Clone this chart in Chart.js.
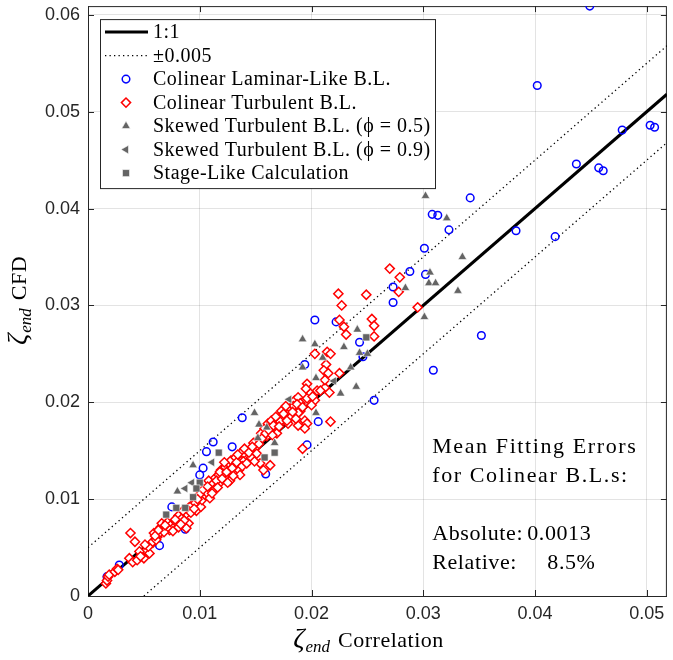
<!DOCTYPE html>
<html>
<head>
<meta charset="utf-8">
<script src="https://cdn.jsdelivr.net/npm/chart.js@4.4.0/dist/chart.umd.min.js"></script>
<style>
  html, body { margin: 0; padding: 0; background: #fff; }
</style>
</head>
<body>
<canvas id="chart" width="673" height="660"></canvas>
<script>
// axis limits and ticks
const xMax = 0.0518;
const yMax = 0.0609;
const tickStep = 0.01;
const band = 0.005;

// reference lines
const oneToOne = [[0, 0], [xMax, xMax]];
const upperBand = [[0, band], [xMax, xMax + band]];
const lowerBand = [[band, 0], [xMax, xMax - band]];

// Colinear Laminar-Like B.L.
const laminar = [
  [0.0449, 0.0609], [0.0402, 0.0527], [0.0478, 0.0481], [0.0503, 0.0486], [0.0507, 0.0484],
  [0.0437, 0.0446], [0.0457, 0.0442], [0.0461, 0.0439], [0.0342, 0.0411], [0.0383, 0.0377],
  [0.0418, 0.0371], [0.0308, 0.0394], [0.0313, 0.0393], [0.0323, 0.0378], [0.0301, 0.0359],
  [0.0302, 0.0332], [0.0288, 0.0335], [0.0273, 0.0319], [0.0273, 0.0303], [0.0352, 0.0269],
  [0.0309, 0.0233], [0.0203, 0.0285], [0.0222, 0.0283], [0.0243, 0.0262], [0.0246, 0.0247],
  [0.0194, 0.0239], [0.0256, 0.0202], [0.0138, 0.0184], [0.0206, 0.0180], [0.0196, 0.0156],
  [0.0112, 0.0159], [0.0106, 0.0149], [0.0129, 0.0154], [0.0103, 0.0132], [0.0100, 0.0125],
  [0.0123, 0.0136], [0.0159, 0.0126], [0.0075, 0.0092], [0.0087, 0.0069], [0.0064, 0.0052],
  [0.0028, 0.0032], [0.0017, 0.0020]
];

// Colinear Turbulent B.L.
const turbulent = [
  [0.0016, 0.0013], [0.0017, 0.0016], [0.0018, 0.0020], [0.0019, 0.0022], [0.0024, 0.0025],
  [0.0026, 0.0028], [0.0027, 0.0027], [0.0038, 0.0065], [0.0042, 0.0056], [0.0037, 0.0039],
  [0.0040, 0.0035], [0.0044, 0.0037], [0.0048, 0.0042], [0.0050, 0.0039], [0.0052, 0.0047],
  [0.0055, 0.0044], [0.0058, 0.0055], [0.0059, 0.0065], [0.0062, 0.0061], [0.0065, 0.0071],
  [0.0066, 0.0075], [0.0070, 0.0070], [0.0071, 0.0076], [0.0074, 0.0073], [0.0077, 0.0071],
  [0.0079, 0.0076], [0.0081, 0.0083], [0.0084, 0.0080], [0.0088, 0.0085], [0.0090, 0.0091],
  [0.0093, 0.0094], [0.0096, 0.0096], [0.0097, 0.0088], [0.0101, 0.0092], [0.0102, 0.0099],
  [0.0105, 0.0104], [0.0106, 0.0107], [0.0110, 0.0112], [0.0108, 0.0119], [0.0112, 0.0116],
  [0.0114, 0.0122], [0.0117, 0.0125], [0.0119, 0.0130], [0.0123, 0.0133], [0.0126, 0.0137],
  [0.0127, 0.0127], [0.0128, 0.0140], [0.0132, 0.0143], [0.0135, 0.0130], [0.0136, 0.0125],
  [0.0137, 0.0148], [0.0141, 0.0145], [0.0143, 0.0142], [0.0146, 0.0143], [0.0150, 0.0153],
  [0.0152, 0.0161], [0.0155, 0.0168], [0.0158, 0.0173], [0.0161, 0.0178], [0.0164, 0.0179],
  [0.0167, 0.0174], [0.0170, 0.0181], [0.0173, 0.0191], [0.0176, 0.0184], [0.0179, 0.0188],
  [0.0181, 0.0194], [0.0185, 0.0202], [0.0188, 0.0205], [0.0190, 0.0191], [0.0194, 0.0181],
  [0.0196, 0.0178], [0.0199, 0.0209], [0.0203, 0.0202], [0.0205, 0.0212], [0.0212, 0.0215],
  [0.0194, 0.0173], [0.0192, 0.0152], [0.0154, 0.0137], [0.0157, 0.0130], [0.0163, 0.0135],
  [0.0123, 0.0122], [0.0127, 0.0119], [0.0090, 0.0075], [0.0088, 0.0070], [0.0081, 0.0071],
  [0.0073, 0.0068], [0.0064, 0.0065], [0.0057, 0.0055], [0.0270, 0.0338], [0.0279, 0.0329],
  [0.0278, 0.0314], [0.0295, 0.0298], [0.0224, 0.0312], [0.0227, 0.0300], [0.0249, 0.0311],
  [0.0225, 0.0285], [0.0229, 0.0278], [0.0231, 0.0270], [0.0254, 0.0286], [0.0256, 0.0279],
  [0.0256, 0.0268], [0.0203, 0.0250], [0.0214, 0.0252], [0.0217, 0.0250], [0.0213, 0.0239],
  [0.0211, 0.0233], [0.0215, 0.0230], [0.0212, 0.0223], [0.0225, 0.0230], [0.0216, 0.0210],
  [0.0196, 0.0219], [0.0195, 0.0214], [0.0208, 0.0212], [0.0217, 0.0180], [0.0190, 0.0199],
  [0.0185, 0.0188], [0.0188, 0.0189], [0.0181, 0.0184], [0.0164, 0.0181], [0.0179, 0.0178],
  [0.0188, 0.0176], [0.0148, 0.0158], [0.0160, 0.0165], [0.0169, 0.0168], [0.0172, 0.0180],
  [0.0184, 0.0196], [0.0145, 0.0150], [0.0100, 0.0105], [0.0098, 0.0100], [0.0113, 0.0110],
  [0.0118, 0.0117], [0.0121, 0.0126], [0.0131, 0.0135], [0.0139, 0.0139], [0.0068, 0.0066],
  [0.0061, 0.0058], [0.0085, 0.0088], [0.0046, 0.0046], [0.0103, 0.0110], [0.0107, 0.0113],
  [0.0109, 0.0101], [0.0111, 0.0106], [0.0115, 0.0119], [0.0116, 0.0112], [0.0118, 0.0128],
  [0.0120, 0.0121], [0.0122, 0.0138], [0.0124, 0.0128], [0.0125, 0.0117], [0.0129, 0.0132],
  [0.0130, 0.0124], [0.0133, 0.0138], [0.0134, 0.0146], [0.0138, 0.0134], [0.0140, 0.0152],
  [0.0142, 0.0137], [0.0144, 0.0148], [0.0147, 0.0154], [0.0149, 0.0139], [0.0151, 0.0147],
  [0.0153, 0.0157], [0.0156, 0.0163], [0.0159, 0.0168], [0.0162, 0.0171], [0.0165, 0.0166],
  [0.0166, 0.0176], [0.0168, 0.0185], [0.0171, 0.0175], [0.0175, 0.0188], [0.0177, 0.0196],
  [0.0178, 0.0181], [0.0183, 0.0190], [0.0186, 0.0183], [0.0187, 0.0198], [0.0192, 0.0195],
  [0.0196, 0.0204], [0.0200, 0.0197], [0.0201, 0.0206], [0.0092, 0.0086], [0.0095, 0.0090],
  [0.0086, 0.0078], [0.0083, 0.0074], [0.0078, 0.0079], [0.0076, 0.0067], [0.0069, 0.0073],
  [0.0063, 0.0068], [0.0060, 0.0062], [0.0054, 0.0051], [0.0051, 0.0053], [0.0047, 0.0041]
];

// Skewed Turbulent B.L. (phi = 0.5)
const skewed05 = [
  [0.0302, 0.0413], [0.0321, 0.0390], [0.0335, 0.0350], [0.0306, 0.0334], [0.0284, 0.0318],
  [0.0305, 0.0323], [0.0311, 0.0323], [0.0331, 0.0315], [0.0301, 0.0288], [0.0241, 0.0275],
  [0.0229, 0.0257], [0.0243, 0.0251], [0.0250, 0.0250], [0.0203, 0.0260], [0.0192, 0.0265],
  [0.0210, 0.0246], [0.0192, 0.0236], [0.0204, 0.0225], [0.0235, 0.0236], [0.0226, 0.0209],
  [0.0240, 0.0216], [0.0204, 0.0189], [0.0149, 0.0189], [0.0153, 0.0177], [0.0160, 0.0174],
  [0.0152, 0.0163], [0.0167, 0.0158], [0.0094, 0.0135], [0.0080, 0.0108]
];

// Skewed Turbulent B.L. (phi = 0.9)
const skewed09 = [
  [0.0111, 0.0138], [0.0093, 0.0117], [0.0087, 0.0111], [0.0180, 0.0203], [0.0220, 0.0222]
];

// Stage-Like Calculation
const stageLike = [
  [0.0117, 0.0148], [0.0100, 0.0117], [0.0097, 0.0111], [0.0094, 0.0102], [0.0087, 0.0091],
  [0.0079, 0.0091], [0.0070, 0.0084], [0.0167, 0.0148], [0.0158, 0.0143], [0.0249, 0.0267]
];

const toXY = (arr) => arr.map((p) => ({ x: p[0], y: p[1] }));

const axisColor = "#262626";
const gridColor = "rgba(0, 0, 0, 0.11)";
const markerGray = "#646464";
const serif = "'Liberation Serif', 'Times New Roman', serif";

const tickFormat = (v) => (v === 0 ? "0" : v.toFixed(2));

// box around the axes with inward ticks on all four sides
const frame = {
  id: "frame",
  beforeDatasetsDraw(chart) {
    const { ctx, chartArea: a, scales } = chart;
    ctx.save();
    ctx.strokeStyle = axisColor;
    ctx.lineWidth = 1;
    ctx.strokeRect(a.left + 0.5, a.top + 0.5, a.right - a.left - 1, a.bottom - a.top);
    ctx.beginPath();
    scales.x.ticks.forEach((t) => {
      const px = Math.round(scales.x.getPixelForValue(t.value)) + 0.5;
      ctx.moveTo(px, a.bottom); ctx.lineTo(px, a.bottom - 6);
      ctx.moveTo(px, a.top); ctx.lineTo(px, a.top + 6);
    });
    scales.y.ticks.forEach((t) => {
      const py = Math.round(scales.y.getPixelForValue(t.value)) + 0.5;
      ctx.moveTo(a.left, py); ctx.lineTo(a.left + 6, py);
      ctx.moveTo(a.right, py); ctx.lineTo(a.right - 6, py);
    });
    ctx.stroke();
    ctx.restore();
  },
};

// zeta_end style label: big italic zeta, italic subscript, then plain text
function drawZetaLabel(ctx, rest) {
  ctx.textBaseline = "alphabetic";
  ctx.textAlign = "left";
  ctx.font = "italic 28px " + serif;
  const w1 = ctx.measureText("ζ").width;
  ctx.font = "italic 17px " + serif;
  const w2 = ctx.measureText("end").width;
  ctx.font = "22px " + serif;
  ctx.letterSpacing = "0.5px";
  const w3 = ctx.measureText(rest).width;
  const gap = 8;
  const total = w1 + w2 + gap + w3;
  let x = -total / 2;
  ctx.letterSpacing = "0px";
  ctx.font = "italic 28px " + serif;
  ctx.fillText("ζ", x, 0);
  x += w1 + 1;
  ctx.font = "italic 17px " + serif;
  ctx.fillText("end", x, 5);
  x += w2 + gap;
  ctx.font = "22px " + serif;
  ctx.letterSpacing = "0.5px";
  ctx.fillText(rest, x, 0);
  ctx.letterSpacing = "0px";
}

const axisTitles = {
  id: "axisTitles",
  afterDraw(chart) {
    const { ctx } = chart;
    ctx.save();
    ctx.fillStyle = "#000";
    ctx.translate(368, 647);
    drawZetaLabel(ctx, "Correlation");
    ctx.restore();

    ctx.save();
    ctx.fillStyle = "#000";
    ctx.translate(26, 301);
    ctx.rotate(-Math.PI / 2);
    drawZetaLabel(ctx, "CFD");
    ctx.restore();
  },
};

// text block in the lower right
const errorNote = {
  id: "errorNote",
  afterDraw(chart) {
    const { ctx, scales } = chart;
    const x0 = scales.x.getPixelForValue(0.0308);
    const y0 = scales.y.getPixelForValue(0.0148);
    const x1 = scales.x.getPixelForValue(0.0393);
    const x2 = scales.x.getPixelForValue(0.0411);
    ctx.save();
    ctx.fillStyle = "#000";
    ctx.font = "22px " + serif;
    ctx.letterSpacing = "1.6px";
    ctx.textBaseline = "alphabetic";
    ctx.fillText("Mean Fitting Errors", x0, y0);
    ctx.fillText("for Colinear B.L.s:", x0, y0 + 29);
    ctx.letterSpacing = "0.6px";
    ctx.fillText("Absolute:", x0, y0 + 87);
    ctx.fillText("0.0013", x1, y0 + 87);
    ctx.fillText("Relative:", x0, y0 + 116);
    ctx.fillText("8.5%", x2, y0 + 116);
    ctx.restore();
  },
};

// MATLAB style legend box in the upper left
const boxLegend = {
  id: "boxLegend",
  afterDraw(chart) {
    const { ctx, chartArea: a } = chart;
    const left = a.left + 12;
    const top = a.top + 13;
    const width = 335;
    const height = 169;
    const rowH = 23.5;
    ctx.save();
    ctx.fillStyle = "#fff";
    ctx.fillRect(left, top, width, height);
    ctx.strokeStyle = axisColor;
    ctx.lineWidth = 1;
    ctx.strokeRect(left + 0.5, top + 0.5, width, height);

    let row = 0;
    chart.data.datasets.forEach((ds) => {
      if (!ds.label) return;
      const cy = top + 13 + row * rowH;
      if (ds.showLine) {
        ctx.strokeStyle = ds.borderColor;
        ctx.lineWidth = ds.borderWidth;
        ctx.setLineDash(ds.borderDash || []);
        ctx.beginPath();
        ctx.moveTo(left + 5, cy);
        ctx.lineTo(left + 48, cy);
        ctx.stroke();
        ctx.setLineDash([]);
      } else {
        ctx.fillStyle = ds.backgroundColor;
        ctx.strokeStyle = ds.borderColor;
        ctx.lineWidth = ds.borderWidth;
        Chart.helpers.drawPoint(ctx, {
          pointStyle: ds.pointStyle,
          radius: ds.pointRadius,
          rotation: ds.rotation || 0,
          borderWidth: ds.borderWidth,
        }, left + 26, cy);
      }
      ctx.fillStyle = "#000";
      ctx.font = "20px " + serif;
      ctx.letterSpacing = "0.5px";
      ctx.textBaseline = "middle";
      ctx.fillText(ds.label, left + 53, cy + 1);
      row++;
    });
    ctx.restore();
  },
};

const ctx = document.getElementById("chart");

const scatterSet = (label, arr, style) => Object.assign({
  label: label,
  data: toXY(arr),
  showLine: false,
}, style);

let c = new Chart(ctx, {
  type: "scatter",
  data: {
    datasets: [
      {
        label: "1:1",
        data: toXY(oneToOne),
        showLine: true,
        borderColor: "#000",
        borderWidth: 3,
        pointRadius: 0,
        order: 10,
      },
      {
        label: "±0.005",
        data: toXY(upperBand),
        showLine: true,
        borderColor: "#000",
        borderWidth: 1.3,
        borderDash: [1.3, 3.2],
        pointRadius: 0,
        order: 10,
      },
      {
        label: "",
        data: toXY(lowerBand),
        showLine: true,
        borderColor: "#000",
        borderWidth: 1.3,
        borderDash: [1.3, 3.2],
        pointRadius: 0,
        order: 10,
      },
      scatterSet("Colinear Laminar-Like B.L.", laminar, {
        pointStyle: "circle",
        pointRadius: 3.8,
        borderWidth: 1.5,
        borderColor: "#0000ff",
        backgroundColor: "rgba(0,0,0,0)",
        order: 5,
      }),
      scatterSet("Colinear Turbulent B.L.", turbulent, {
        pointStyle: "rectRot",
        pointRadius: 4.6,
        borderWidth: 1.5,
        borderColor: "#ff0000",
        backgroundColor: "#ffffff",
        order: 4,
      }),
      scatterSet("Skewed Turbulent B.L. (ϕ = 0.5)", skewed05, {
        pointStyle: "triangle",
        pointRadius: 5,
        borderWidth: 0.6,
        borderColor: "#ffffff",
        backgroundColor: markerGray,
        order: 3,
      }),
      scatterSet("Skewed Turbulent B.L. (ϕ = 0.9)", skewed09, {
        pointStyle: "triangle",
        pointRadius: 5,
        rotation: -90,
        pointRotation: -90,
        borderWidth: 0.6,
        borderColor: "#ffffff",
        backgroundColor: markerGray,
        order: 2,
      }),
      scatterSet("Stage-Like Calculation", stageLike, {
        pointStyle: "rect",
        pointRadius: 5,
        borderWidth: 0.6,
        borderColor: "#ffffff",
        backgroundColor: markerGray,
        order: 1,
      }),
    ],
  },
  options: {
    responsive: false,
    animation: false,
    devicePixelRatio: 1,
    layout: { padding: { top: 4, right: 1, left: 0, bottom: 0 } },
    plugins: {
      legend: { display: false },
      tooltip: { enabled: false },
    },
    scales: {
      x: {
        type: "linear",
        min: 0,
        max: xMax,
        border: { display: false },
        grid: { color: gridColor, drawTicks: false },
        ticks: {
          stepSize: tickStep,
          includeBounds: false,
          padding: 7,
          color: axisColor,
          font: { family: "'Liberation Sans', Arial, sans-serif", size: 18 },
          callback: tickFormat,
        },
        afterFit: (s) => {
          s.height = 64;
          s.paddingLeft = 0;
          s.paddingRight = 0;
        },
      },
      y: {
        type: "linear",
        min: 0,
        max: yMax,
        border: { display: false },
        grid: { color: gridColor, drawTicks: false },
        ticks: {
          stepSize: tickStep,
          includeBounds: false,
          padding: 8,
          color: axisColor,
          font: { family: "'Liberation Sans', Arial, sans-serif", size: 18 },
          callback: tickFormat,
        },
        afterFit: (s) => {
          s.width = 88;
          s.paddingTop = 0;
          s.paddingBottom = 0;
        },
      },
    },
  },
  plugins: [frame, errorNote, boxLegend, axisTitles],
});
</script>
</body>
</html>
